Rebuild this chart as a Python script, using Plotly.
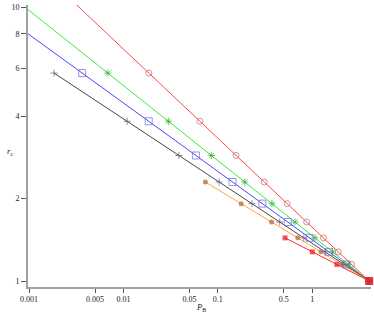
import plotly.graph_objects as go

# r_c rows shared by the marked points
r_rows = [11.5, 5.75, 3.833, 2.875, 2.3, 1.917, 1.643, 1.4375, 1.278, 1.15, 1.0]

# P_B values, one list per series
p_red = [0.002212, 0.01858, 0.06455, 0.1562, 0.3099, 0.5423, 0.871, 1.313, 1.884, 2.604, 4.0]
p_green = [0.000547, 0.006833, 0.02992, 0.08538, 0.1925, 0.3737, 0.6557, 1.067, 1.637, 2.404, 4.0]
p_blue = [0.0002287, 0.003659, 0.01852, 0.05857, 0.143, 0.2962, 0.5492, 0.9369, 1.5, 2.287, 4.0]
p_black = [0.001843, 0.01094, 0.0387, 0.1032, 0.2296, 0.4519, 0.8127, 1.363, 2.165, 4.0]
r_black = r_rows[1:]
p_orange = [0.07368, 0.1765, 0.37, 0.7019, 1.234, 2.046, 4.0]
r_orange = r_rows[4:]
p_redsq = [0.5148, 1.001, 1.816, 4.0]
r_redsq = r_rows[7:]

x_ticks = [0.001, 0.005, 0.01, 0.05, 0.1, 0.5, 1]
x_tick_text = ["0.001", "0.005", "0.01", "0.05", "0.1", "0.5", "1"]
y_ticks = [1, 2, 4, 6, 8, 10]
y_tick_text = ["1", "2", "4", "6", "8", "10"]

XMIN, XMAX = 10 ** -3.0106, 10 ** 0.6217
YMIN, YMAX = 10 ** -0.0219, 10 ** 1.0084

series = [
    dict(x=p_red, y=r_rows, line="#ff4a4a", sym="circle-open", mc="#c06868", ms=6, filled=False),
    dict(x=p_green, y=r_rows, line="#3ee83e", sym="asterisk-open", mc="#30b030", ms=6, filled=False),
    dict(x=p_blue, y=r_rows, line="#4848ff", sym="square-open", mc="#6a6ad0", ms=7, filled=False),
    dict(x=p_black, y=r_black, line="#474747", sym="cross-thin-open", mc="#5a5a80", ms=5, filled=False),
    dict(x=p_orange, y=r_orange, line="#ffa640", sym="circle", mc="#a8662e", ms=5, filled=True),
    dict(x=p_redsq, y=r_redsq, line="#ff2a2a", sym="square", mc="#f01010", ms=5, filled=True),
]

fig = go.Figure()
for s in series:
    fig.add_trace(go.Scatter(x=s["x"], y=s["y"], mode="lines",
                             line=dict(color=s["line"], width=1), cliponaxis=True,
                             hoverinfo="skip", showlegend=False))
for s in series:
    xs = [a for a, b in zip(s["x"], s["y"]) if XMIN <= a and b <= YMAX]
    ys = [b for a, b in zip(s["x"], s["y"]) if XMIN <= a and b <= YMAX]
    sizes = [s["ms"]] * len(xs)
    if s["sym"] == "square" and s["filled"]:
        sizes[-1] = 8
    if s["filled"]:
        marker = dict(symbol=s["sym"], color=s["mc"], size=sizes, line=dict(width=0))
    else:
        marker = dict(symbol=s["sym"], color=s["mc"], size=sizes,
                      line=dict(color=s["mc"], width=1))
    fig.add_trace(go.Scatter(x=xs, y=ys, mode="markers", marker=marker,
                             cliponaxis=False, showlegend=False))

axis_font = dict(family="Liberation Serif", size=8, color="#222")
fig.update_xaxes(type="log", range=[-3.0106, 0.6217], tickvals=x_ticks, ticktext=x_tick_text,
                 showgrid=False, zeroline=False, showline=True, linecolor="#a0a0a0", linewidth=2,
                 ticks="outside", ticklen=4, tickcolor="#555", tickwidth=1, tickfont=axis_font,
                 ticklabelstandoff=-1)
fig.update_yaxes(type="log", range=[-0.0219, 1.0084], tickvals=y_ticks, ticktext=y_tick_text,
                 showgrid=False, zeroline=False, showline=True, linecolor="#a0a0a0", linewidth=2,
                 ticks="outside", ticklen=5, tickcolor="#555", tickwidth=1, tickfont=axis_font)

fig.add_annotation(text="<i>P</i><sub>B</sub>", xref="paper", yref="paper", x=0.505, y=0,
                   yshift=-20, showarrow=False, xanchor="center", yanchor="middle",
                   font=dict(family="Liberation Serif", size=8.5, color="#222"))
fig.add_annotation(text="<i>r</i><sub>c</sub>", xref="paper", yref="paper", x=0, y=0.48,
                   xshift=-18, showarrow=False, xanchor="center", yanchor="middle",
                   font=dict(family="Liberation Serif", size=9, color="#222"))

fig.update_layout(width=374, height=312, margin=dict(l=28, r=3, t=5, b=25),
                  plot_bgcolor="white", paper_bgcolor="white")
fig.write_html("out.html", config={"displayModeBar": False},
               post_script="document.body.style.margin='0';document.body.style.overflow='hidden';")
